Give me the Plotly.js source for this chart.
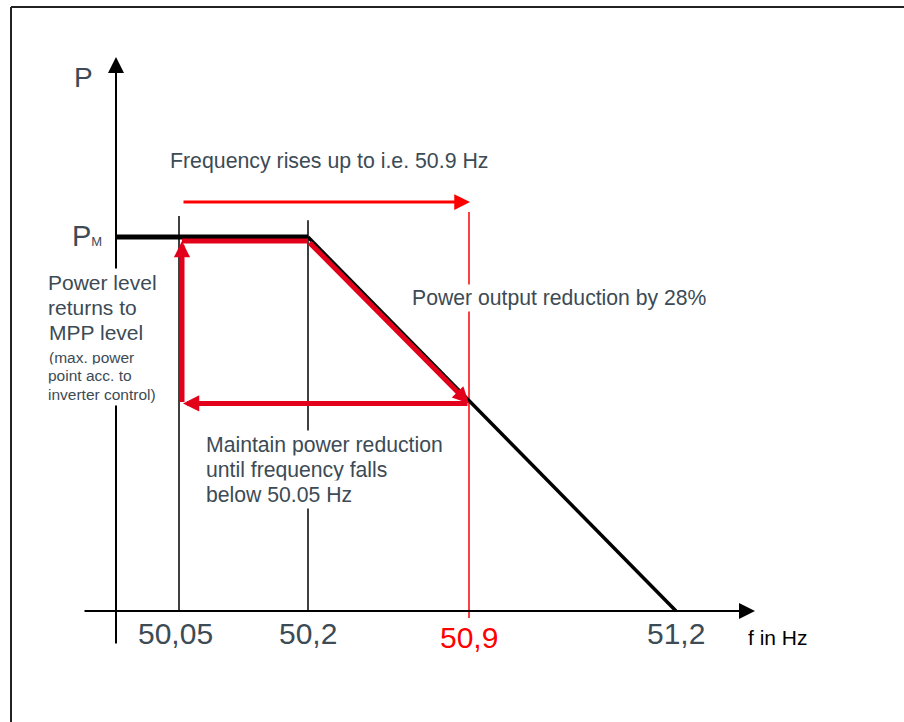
<!DOCTYPE html>
<html>
<head>
<meta charset="utf-8">
<script src="https://cdn.plot.ly/plotly-3.0.1.min.js"></script>
<style>html,body{margin:0;padding:0;background:#fff;}#chart{width:904px;height:722px;}</style>
</head>
<body>
<div id="chart"></div>
<script>
// ---- data (schematic positions along the f axis; P axis = 0) ----
const freqLabels = ['50,05', '50,2', '50,9', '51,2'];
const freqPos = [63, 192, 353, 560];
const freqLabelColors = ['#3c4b55', '#3c4b55', '#ff0000', '#3c4b55'];
// power levels as a fraction of P_M
const powerMax = 1.0;
const powerReduced = 0.555;   // level reached at 50.9 Hz (drawn)
const loopTop = 0.989;        // red loop runs just under P_M
const reductionText = 'Power output reduction by 28%';

// characteristic curve (black)
const curveFlatX = [0, freqPos[1]];
const curveFlatY = [powerMax, powerMax];
const curveDropX = [freqPos[1], freqPos[3]];
const curveDropY = [powerMax, 0];

const ink = '#3c4b55';
const red = '#ff0000';
const crimson = '#e2001a';
const W = 904, H = 722;
const px = x => x / W;          // page pixel -> paper (for text placement)
const py = y => 1 - y / H;

const traces = [
  // thin vertical guide lines at 50,05 and 50,2
  {x: [freqPos[0], freqPos[0]], y: [0, 1.056], mode: 'lines', line: {color: '#000', width: 1.5}, hoverinfo: 'skip'},
  {x: [freqPos[1], freqPos[1]], y: [0, 1.045], mode: 'lines', line: {color: '#000', width: 1.5}, hoverinfo: 'skip'},
  // thin red guide at 50,9
  {x: [freqPos[2], freqPos[2]], y: [-0.019, 1.067], mode: 'lines', line: {color: red, width: 1.5}, hoverinfo: 'skip'},
  // characteristic
  {x: curveFlatX, y: curveFlatY, mode: 'lines', line: {color: '#000', width: 5}, hoverinfo: 'skip'},
  {x: curveDropX, y: curveDropY, mode: 'lines', line: {color: '#000', width: 3.5}, hoverinfo: 'skip'},
  // red loop: top horizontal segment
  {x: [freqPos[0] + 3, freqPos[1]], y: [loopTop, loopTop], mode: 'lines', line: {color: crimson, width: 5}, hoverinfo: 'skip'}
];

function arrow(x0, y0, x1, y1, color, width, size) {
  return {x: x1, y: y1, ax: x0, ay: y0, xref: 'x', yref: 'y', axref: 'x', ayref: 'y',
    text: '', showarrow: true, arrowhead: 2, arrowsize: size, arrowwidth: width, arrowcolor: color,
    standoff: 0, startstandoff: 0};
}
function label(text, x, y, size, color, xanchor, pad) {
  return {text: text, x: px(x), y: py(y), xref: 'paper', yref: 'paper', showarrow: false,
    xanchor: xanchor || 'left', yanchor: 'middle', bgcolor: '#ffffff', borderpad: pad || 1,
    font: {family: 'Liberation Sans, Arial, sans-serif', size: size, color: color || ink}};
}

const annotations = [
  // axes
  arrow(0, -0.091, 0, 1.481, '#000', 2, 1.6),
  arrow(-33, 0, 639, 0, '#000', 2, 1.6),
  // "frequency rises" arrow
  arrow(freqPos[0] + 3, 1.0936, freqPos[2] + 1, 1.0936, red, 3, 1.05),
  // red loop arrows
  arrow(freqPos[1], loopTop, freqPos[2], powerReduced, crimson, 5, 0.65),
  arrow(freqPos[2], powerReduced, freqPos[0] + 4, powerReduced, crimson, 5, 0.65),
  arrow(freqPos[0] + 3, powerReduced, freqPos[0] + 3, loopTop, crimson, 5, 0.65),
  // texts
  label('P', 83, 78, 28, ink, 'center'),
  label('P<span style="font-size:13px">M</span>', 104, 236, 29, ink, 'right'),
  label('Frequency rises up to i.e. 50.9 Hz', 168, 161, 21.3),
  label(reductionText, 410, 298, 21.2),
  label('Power level', 45, 282, 21, ink, 'left', 2),
  label('returns to', 45, 307, 21, ink, 'left', 2),
  label('MPP level', 45, 333, 21, ink, 'left', 3),
  label('(max. power', 45, 357, 15.5, ink, 'left', 3),
  label('point acc. to', 45, 375, 15.5, ink, 'left', 2),
  label('inverter control)', 45, 394, 15.5, ink, 'left', 2),
  label('Maintain power reduction', 203, 445, 21.2, ink, 'left', 2),
  label('until frequency falls', 203, 470, 21.2, ink, 'left', 2),
  label('below 50.05 Hz', 203, 494, 21.2, ink, 'left', 2),
  label('f in Hz', 778, 637, 21, '#000', 'center')
];
// frequency tick labels
freqLabels.forEach((t, i) => {
  annotations.push({text: t, x: freqPos[i], y: i === 2 ? -0.071 : -0.059, xref: 'x', yref: 'y',
    showarrow: false, xanchor: 'center', yanchor: 'middle', xshift: i === 0 ? -4 : 0,
    font: {family: 'Liberation Sans, Arial, sans-serif', size: 30, color: freqLabelColors[i]}});
});

const layout = {
  width: W, height: H,
  margin: {l: 0, r: 0, t: 0, b: 0},
  paper_bgcolor: '#fff', plot_bgcolor: '#fff',
  showlegend: false,
  xaxis: {range: [-116, 788], visible: false, fixedrange: true},
  yaxis: {range: [-0.2968, 1.6337], visible: false, fixedrange: true},
  annotations: annotations,
  shapes: [
    {type: 'line', xref: 'paper', yref: 'paper', x0: px(11), x1: 1, y0: py(7), y1: py(7), line: {color: '#222', width: 2}},
    {type: 'line', xref: 'paper', yref: 'paper', x0: px(11), x1: px(11), y0: py(7), y1: 0, line: {color: '#222', width: 2}}
  ]
};

Plotly.newPlot('chart', traces, layout, {staticPlot: true, displayModeBar: false});
</script>
</body>
</html>
